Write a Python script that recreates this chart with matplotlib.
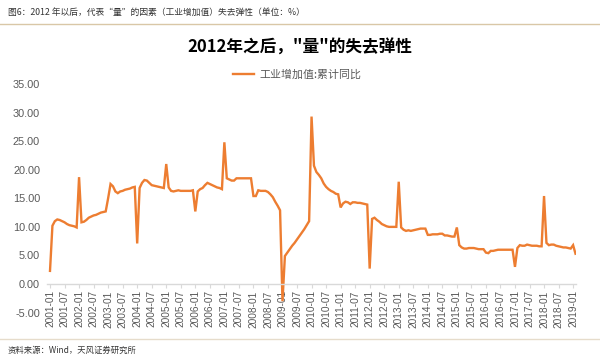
import numpy as np
import matplotlib
matplotlib.use("Agg")
import matplotlib.pyplot as plt
from matplotlib.lines import Line2D

# ---- data -------------------------------------------------------------
months = [f"{y}-{m:02d}" for y in range(2001, 2020) for m in range(1, 13)][:218]

v2001 = [2.3, 10.2, 11.0, 11.3, 11.2, 11.0, 10.8, 10.5, 10.3, 10.2, 10.1, 9.9]
v2002 = [18.7, 10.8, 10.9, 11.2, 11.6, 11.8, 12.0, 12.1, 12.3, 12.5, 12.6, 12.7]
v2003 = [15.0, 17.5, 17.1, 16.2, 15.9, 16.2, 16.3, 16.5, 16.6, 16.7, 16.9, 17.0]
v2004 = [7.1, 16.8, 17.7, 18.2, 18.1, 17.7, 17.3, 17.2, 17.1, 17.0, 16.9, 16.8]
v2005 = [21.0, 16.9, 16.3, 16.2, 16.3, 16.4, 16.3, 16.3, 16.3, 16.3, 16.3, 16.4]
v2006 = [12.7, 16.2, 16.6, 16.8, 17.3, 17.7, 17.5, 17.3, 17.1, 16.9, 16.8, 16.6]
v2007 = [24.8, 18.5, 18.3, 18.1, 18.1, 18.5, 18.5, 18.5, 18.5, 18.5, 18.5, 18.5]
v2008 = [15.4, 15.4, 16.4, 16.3, 16.3, 16.3, 16.1, 15.7, 15.2, 14.4, 13.7, 12.9]
v2009 = [-3.0, 4.9, 5.5, 6.1, 6.7, 7.2, 7.8, 8.4, 9.0, 9.6, 10.3, 11.0]
v2010 = [29.3, 20.7, 19.6, 19.1, 18.5, 17.6, 17.0, 16.6, 16.3, 16.1, 15.8, 15.7]
v2011 = [13.4, 14.1, 14.4, 14.3, 14.0, 14.3, 14.3, 14.2, 14.2, 14.1, 14.0, 13.9]
v2012 = [2.7, 11.4, 11.6, 11.2, 10.9, 10.5, 10.3, 10.1, 10.0, 10.0, 10.0, 10.0]
v2013 = [17.9, 9.9, 9.5, 9.3, 9.4, 9.3, 9.4, 9.5, 9.6, 9.7, 9.7, 9.7]
v2014 = [8.6, 8.6, 8.7, 8.7, 8.7, 8.8, 8.8, 8.5, 8.5, 8.4, 8.3, 8.3]
v2015 = [9.9, 6.8, 6.4, 6.2, 6.2, 6.3, 6.3, 6.3, 6.2, 6.1, 6.1, 6.1]
v2016 = [5.5, 5.4, 5.8, 5.8, 5.9, 6.0, 6.0, 6.0, 6.0, 6.0, 6.0, 6.0]
v2017 = [3.0, 6.3, 6.8, 6.7, 6.7, 6.9, 6.8, 6.7, 6.7, 6.7, 6.6, 6.6]
v2018 = [15.4, 7.2, 6.8, 6.9, 6.9, 6.7, 6.6, 6.5, 6.4, 6.4, 6.3, 6.2]
v2019 = [6.8, 5.3]

values = (v2001 + v2002 + v2003 + v2004 + v2005 + v2006 + v2007 + v2008 + v2009
          + v2010 + v2011 + v2012 + v2013 + v2014 + v2015 + v2016 + v2017 + v2018 + v2019)

yticks = [-5, 0, 5, 10, 15, 20, 25, 30, 35]

title = "2012年之后，\"量\"的失去弹性"
series_name = "工业增加值:累计同比"
header = "图6：2012 年以后，代表\u201c量\u201d的因素（工业增加值）失去弹性（单位：%）"
source = "资料来源：Wind，天风证券研究所"

# ---- style -------------------------------------------------------------
CJK = ["Noto Sans CJK SC", "DejaVu Sans"]
LAT = ["Liberation Sans", "DejaVu Sans"]
orange = "#ED7D31"
tickc = "#595959"

W, H = 600, 359
fig = plt.figure(figsize=(W / 100, H / 100), dpi=100)

def fx(px):
    return px / W

def fy(py):
    return 1 - py / H

ax_left, ax_right = 47, 576
ax_top, ax_bottom = 84, 312.6
ax = fig.add_axes([fx(ax_left), fy(ax_bottom), fx(ax_right - ax_left), (ax_bottom - ax_top) / H])

for s in ["top", "right", "left"]:
    ax.spines[s].set_visible(False)
ax.spines["bottom"].set_position(("data", 0))
ax.spines["bottom"].set_color("#d9d9d9")
ax.spines["bottom"].set_linewidth(1.0)

x = np.arange(len(values))
ax.plot(x, values, color=orange, lw=1.7, solid_joinstyle="miter")

ax.set_ylim(-5, 35)
ax.set_xlim(-1.24, 217.2)
ax.set_yticks(yticks)
ax.set_yticklabels([f"{v:.2f}" for v in yticks], family=LAT, fontsize=7.8, color=tickc)

tick_idx = [i for i in range(0, len(months), 6) if i <= 216]
ax.set_xticks(tick_idx)
ax.set_xticklabels([months[i] for i in tick_idx], rotation=90, family=LAT,
                   fontsize=7.3, color=tickc, va="top", ha="center")

ax.tick_params(axis="x", length=3, color="#d9d9d9", pad=1.5)
ax.tick_params(axis="y", length=0, pad=5)
ax.grid(False)

# title & legend
fig.text(fx(300), fy(48), title, family=CJK, fontsize=12, fontweight="bold",
         ha="center", va="center", color="#000000")
handle = Line2D([0], [0], color=orange, lw=1.7)
fig.legend([handle], [series_name], loc="center", bbox_to_anchor=(fx(297), fy(75)),
           frameon=False, prop={"family": CJK, "size": 7.9}, labelcolor=tickc,
           handlelength=1.9, handletextpad=0.5)

# header / footer
fig.text(fx(8), fy(12), header, family=CJK, fontsize=6.3, color="#333333",
         ha="left", va="center")
fig.add_artist(Line2D([0, 1], [fy(24), fy(24)], color="#d9c7a7", lw=1.0,
                      transform=fig.transFigure))
fig.add_artist(Line2D([0, 1], [fy(339), fy(339)], color="#e6dccb", lw=1.0,
                      transform=fig.transFigure))
fig.text(fx(8), fy(350), source, family=CJK, fontsize=6.0, color="#333333",
         ha="left", va="center")

fig.savefig("out.png", dpi=100, facecolor="white")
